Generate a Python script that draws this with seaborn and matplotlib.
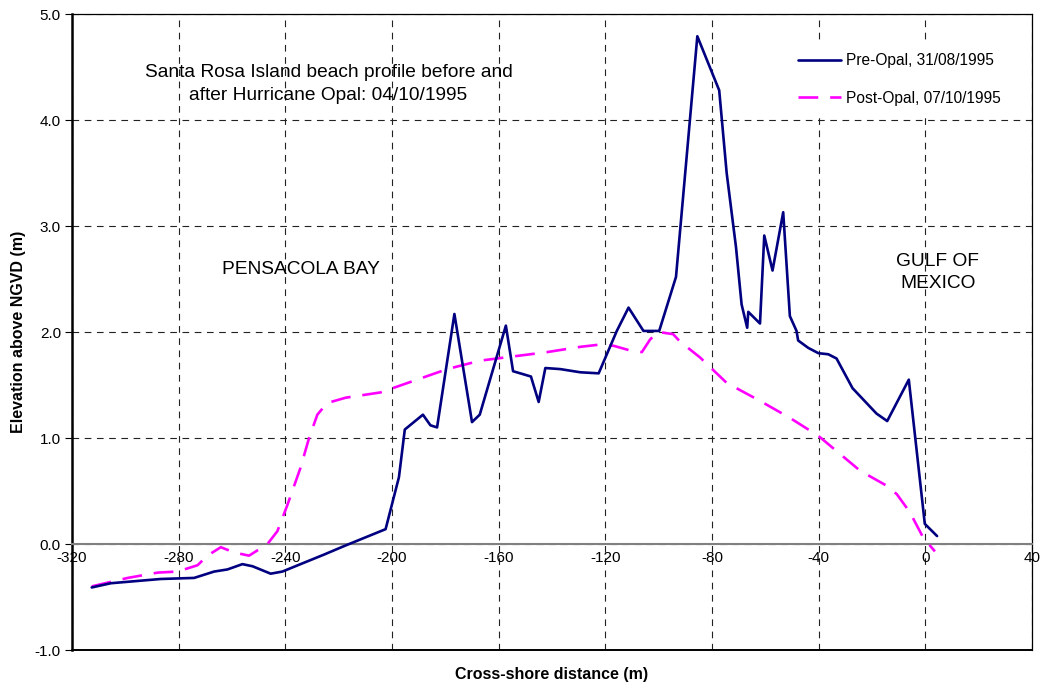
import matplotlib
matplotlib.use("Agg")
import matplotlib.pyplot as plt
import seaborn as sns
import pandas as pd
import numpy as np

# Beach profile surveys, Santa Rosa Island (cross-shore distance in m, elevation in m above NGVD)
pre_x = [-312.6, -305.4, -286.7, -274.2, -266.7, -261.7, -256.1, -252.3, -245.5, -241.1,
         -234.3, -225.5, -218.0, -202.4, -197.4, -195.2, -188.4, -185.6, -183.1, -176.6,
         -170.0, -167.1, -157.3, -154.6, -151.9, -147.9, -145.0, -142.5, -136.9, -129.4,
         -122.5, -115.7, -111.3, -105.7, -99.8, -93.5, -85.5, -77.3, -74.5, -71.0,
         -68.9, -66.8, -66.4, -62.0, -60.4, -57.3, -53.3, -50.8, -48.3, -47.7,
         -43.9, -40.1, -36.4, -33.3, -27.3, -18.3, -14.3, -6.2, -0.2, 4.4]
pre_y = [-0.41, -0.37, -0.33, -0.32, -0.26, -0.24, -0.19, -0.21, -0.28, -0.26,
         -0.19, -0.10, -0.02, 0.14, 0.63, 1.08, 1.22, 1.12, 1.10, 2.17,
         1.15, 1.22, 2.06, 1.63, 1.61, 1.58, 1.34, 1.66, 1.65, 1.62,
         1.61, 2.01, 2.23, 2.01, 2.01, 2.52, 4.79, 4.28, 3.50, 2.80,
         2.26, 2.04, 2.19, 2.08, 2.91, 2.58, 3.13, 2.15, 2.01, 1.92,
         1.85, 1.80, 1.79, 1.75, 1.47, 1.23, 1.16, 1.55, 0.19, 0.075]

post_x = [-312.6, -299.1, -287.9, -280.4, -272.9, -269.2, -264.2, -259.2, -253.6, -246.7,
          -243.0, -239.2, -234.3, -231.1, -228.0, -224.3, -217.4, -204.3, -191.8, -179.3,
          -166.9, -154.4, -141.9, -129.4, -122.5, -116.9, -111.3, -106.3, -103.2, -100.1,
          -94.6, -92.0, -84.5, -74.5, -62.0, -50.8, -40.1, -24.4, -14.5, -10.7,
          -5.8, -0.8, 3.6]
post_y = [-0.40, -0.32, -0.27, -0.26, -0.20, -0.11, -0.03, -0.08, -0.11, 0.00,
          0.12, 0.37, 0.72, 1.00, 1.22, 1.33, 1.38, 1.43, 1.54, 1.65,
          1.73, 1.77, 1.81, 1.86, 1.88, 1.87, 1.83, 1.81, 1.93, 2.00,
          1.98, 1.91, 1.76, 1.52, 1.35, 1.19, 1.02, 0.69, 0.55, 0.47,
          0.30, 0.06, -0.07]

series_labels = ["Pre-Opal, 31/08/1995", "Post-Opal, 07/10/1995"]
x_ticks = [-320, -280, -240, -200, -160, -120, -80, -40, 0, 40]
y_ticks = [-1.0, 0.0, 1.0, 2.0, 3.0, 4.0, 5.0]

sns.set_style("white")
plt.rcParams["font.family"] = ["Liberation Sans", "DejaVu Sans"]
plt.rcParams["axes.unicode_minus"] = False
plt.rcParams["text.color"] = "black"
plt.rcParams["axes.labelcolor"] = "black"

fig, ax = plt.subplots(figsize=(10.44, 6.88), dpi=100)
fig.subplots_adjust(left=72 / 1044, right=1032 / 1044, top=1 - 14 / 688, bottom=1 - 650 / 688)

pre = pd.DataFrame({"x": pre_x, "y": pre_y})
post = pd.DataFrame({"x": post_x, "y": post_y})

sns.lineplot(data=pre, x="x", y="y", sort=False, estimator=None, ax=ax,
             color="#000080", linewidth=1.9, label=series_labels[0], zorder=4)
sns.lineplot(data=post, x="x", y="y", sort=False, estimator=None, ax=ax,
             color="#FF00FF", linewidth=1.9, label=series_labels[1], zorder=3)
ax.lines[-1].set_dashes((7.5, 4.5))

ax.set_xlim(-320, 40)
ax.set_ylim(-1.0, 5.0)
ax.set_xticks(x_ticks)
ax.set_yticks(y_ticks)
ax.set_yticklabels([f"{v:.1f}" for v in y_ticks])

# dashed grid
ax.grid(True, color="#222222", linestyle=(0, (6, 5)), linewidth=0.8)
ax.set_axisbelow(True)

# horizontal axis crosses at zero; frame around the plot area
ax.spines["bottom"].set_position(("data", 0))
ax.spines["bottom"].set_color("#808080")
ax.spines["bottom"].set_linewidth(1.5)
ax.spines["left"].set_color("black")
ax.spines["left"].set_linewidth(1.8)
for side in ("top", "right"):
    ax.spines[side].set_visible(True)
    ax.spines[side].set_color("black")
    ax.spines[side].set_linewidth(0.9)
ax.axhline(-1.0, color="black", linewidth=1.4, clip_on=False, zorder=5)

ax.tick_params(axis="x", length=0, pad=5, labelsize=11, colors="black")
ax.tick_params(axis="y", length=5, width=0.8, direction="out", pad=3,
               labelsize=11, left=True, colors="black")

ax.set_xlabel("Cross-shore distance (m)", fontsize=11.5, fontweight="bold")
ax.xaxis.set_label_coords(0.5, -0.026)
ax.set_ylabel("Elevation above NGVD (m)", fontsize=11.5, fontweight="bold")
ax.yaxis.set_label_coords(-0.048, 0.5)

ax.text(-223.8, 4.34, "Santa Rosa Island beach profile before and\nafter Hurricane Opal: 04/10/1995",
        ha="center", va="center", fontsize=13.8, linespacing=1.4)
ax.text(-234.3, 2.59, "PENSACOLA BAY", ha="center", va="center", fontsize=13.8)
ax.text(4.6, 2.56, "GULF OF\nMEXICO", ha="center", va="center", fontsize=13.8, linespacing=1.4)

leg = ax.legend(loc="upper left", bbox_to_anchor=(0.738, 0.965), frameon=True,
                fontsize=11.2, handlelength=2.8, handletextpad=0.3, labelspacing=1.45,
                borderpad=0.6, fancybox=False)
leg.get_frame().set_facecolor("white")
leg.get_frame().set_edgecolor("none")
leg.get_frame().set_alpha(1.0)

fig.savefig("out.png", dpi=100, facecolor="white")
